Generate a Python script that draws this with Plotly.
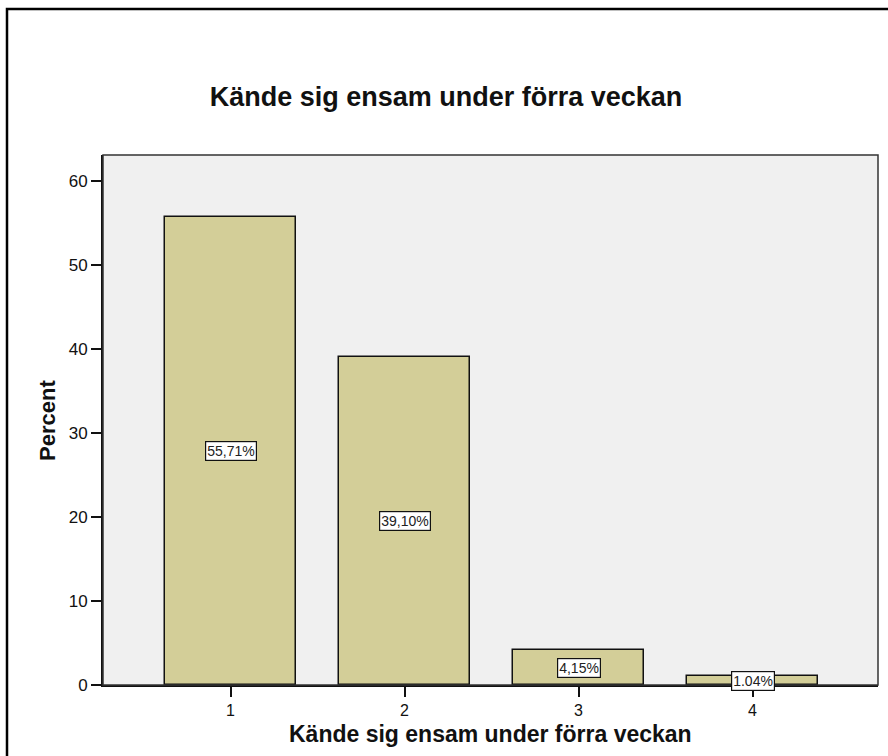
import plotly.graph_objects as go

categories = [1, 2, 3, 4]
percent_values = [55.71, 39.10, 4.15, 1.04]
bar_labels = ["55,71%", "39,10%", "4,15%", "1.04%"]
y_ticks = [0, 10, 20, 30, 40, 50, 60]
title_text = "Kände sig ensam under förra veckan"
x_title = "Kände sig ensam under förra veckan"
y_title = "Percent"

FONT = "Liberation Sans, Arial, sans-serif"

W, H = 888, 756
L, R, T, B = 103, 878, 155, 685
pw, ph = R - L, B - T

def px_x(x):
    return (x - L) / pw

def px_y(y):
    return (B - y) / ph

fig = go.Figure()
fig.add_trace(go.Bar(
    x=categories, y=percent_values, width=0.753,
    marker=dict(color="#D3CE98", line=dict(color="#111111", width=1.5)),
    hoverinfo="skip", showlegend=False,
))

annotations = []
for c, v, t in zip(categories, percent_values, bar_labels):
    annotations.append(dict(
        x=c, y=v / 2, xref="x", yref="y", text=t, showarrow=False,
        font=dict(family=FONT, size=14, color="#222222"),
        bgcolor="white", bordercolor="#111111", borderwidth=1.2, borderpad=1,
    ))

annotations.append(dict(
    x=0.5, y=px_y(734), xref="paper", yref="paper", text="<b>%s</b>" % x_title,
    showarrow=False, xanchor="center", yanchor="middle",
    font=dict(family=FONT, size=23, color="#111111"),
))
annotations.append(dict(
    x=px_x(47), y=0.5, xref="paper", yref="paper", text="<b>%s</b>" % y_title,
    showarrow=False, xanchor="center", yanchor="middle", textangle=-90,
    font=dict(family=FONT, size=22, color="#111111"),
))

shapes = [
    dict(type="rect", xref="paper", yref="paper", x0=0, y0=0, x1=1, y1=1,
         line=dict(color="#333333", width=1.5), layer="above"),
    dict(type="rect", xref="paper", yref="paper",
         x0=px_x(7), y0=px_y(770), x1=px_x(900), y1=px_y(9),
         line=dict(color="black", width=2.5), layer="above"),
]

fig.update_layout(
    width=W, height=H,
    margin=dict(l=L, r=W - R, t=T, b=H - B, autoexpand=False),
    paper_bgcolor="white", plot_bgcolor="#F0F0F0",
    title=dict(text="<b>%s</b>" % title_text, x=446 / W, y=1 - 97 / H,
               xanchor="center", yanchor="middle",
               font=dict(family=FONT, size=27, color="#111111")),
    xaxis=dict(range=[0.267, 4.721], tickvals=categories,
               ticktext=[str(c) for c in categories],
               ticks="outside", ticklen=10, tickwidth=2, tickcolor="#111111",
               showline=True, linecolor="#111111", linewidth=2,
               showgrid=False, zeroline=False,
               tickfont=dict(family=FONT, size=16, color="#111111")),
    yaxis=dict(range=[0, 63.1], tickvals=y_ticks,
               ticks="outside", ticklen=10, tickwidth=2, tickcolor="#111111",
               showline=True, linecolor="#111111", linewidth=2,
               showgrid=False, zeroline=False,
               tickfont=dict(family=FONT, size=17, color="#111111")),
    annotations=annotations, shapes=shapes, bargap=0,
)

fig.write_html("out.html", config={"displayModeBar": False},
               post_script="document.body.style.margin='0';")
